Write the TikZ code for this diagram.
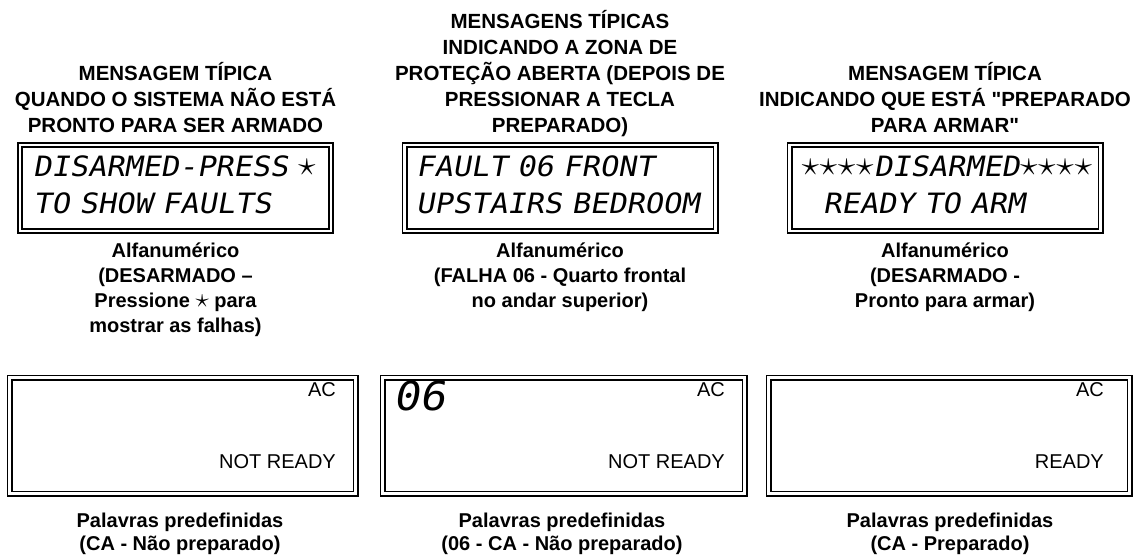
\documentclass[tikz,border=0pt]{standalone}
\usepackage{fontspec}
\usepackage{graphicx}
\setmainfont{Liberation Sans}
\newfontfamily\lcdfont{DejaVu Sans Mono}[FakeSlant=0.18,FakeStretch=1.08]
\usetikzlibrary{positioning}
\newcommand\lstar{\makebox[\fontcharwd\font`0][c]{\raisebox{1.5pt}{\scalebox{1.4}{$\star$}}}}
\newcommand\capstar{\smash{\scalebox{1.3}{$\star$}}}

\begin{document}
\begin{tikzpicture}
    [x=1pt, y=-1pt,
    heading/.style={font=\bfseries\fontsize{20.5}{26}\selectfont, align=center, anchor=north, inner sep=0pt},
    caption/.style={font=\bfseries\fontsize{20}{25}\selectfont, align=center, anchor=north, inner sep=0pt},
    lcdbox/.style={draw=black, double, line width=1.7pt, double distance=2.6pt, inner sep=0pt},
    lcdrow/.style={font={\lcdfont\fontsize{28}{28}\selectfont\spaceskip=0.35em\relax}, anchor=base west, inner sep=0pt},
    word/.style={font=\fontsize{20}{20}\selectfont, anchor=base east, inner sep=0pt}]
    \useasboundingbox (0,0) rectangle (1135,556);

    % headings
    \node [heading] (headA) at (175.5,60) {\rule{0pt}{20pt}MENSAGEM TÍPICA\\QUANDO O SISTEMA NÃO ESTÁ\\PRONTO PARA SER ARMADO};
    \node [heading] (headB) at (560,8) {\rule{0pt}{20pt}MENSAGENS TÍPICAS\\INDICANDO A ZONA DE\\PROTEÇÃO ABERTA (DEPOIS DE\\PRESSIONAR A TECLA\\PREPARADO)};
    \node [heading] (headC) at (945,60) {\rule{0pt}{20pt}MENSAGEM TÍPICA\\INDICANDO QUE ESTÁ \textquotedbl PREPARADO\\PARA ARMAR\textquotedbl};

    % alphanumeric displays
    \node [lcdbox, minimum width=311, minimum height=86] (alphaA) at (175.5,188) {};
    \node [lcdbox, minimum width=311, minimum height=86] (alphaB) at (560,188) {};
    \node [lcdbox, minimum width=311, minimum height=86] (alphaC) at (945,188) {};
    \node [lcdrow] (rowA1) at (33,177) {DISARMED-PRESS \lstar};
    \node [lcdrow] (rowA2) at (33,214) {TO SHOW FAULTS};
    \node [lcdrow] (rowB1) at (416,177) {FAULT 06 FRONT};
    \node [lcdrow] (rowB2) at (416,214) {UPSTAIRS BEDROOM};
    \node [lcdrow] (rowC1) at (801,177) {\lstar\lstar\lstar\lstar DISARMED\lstar\lstar\lstar\lstar};
    \node [lcdrow] (rowC2) at (823,214) {READY TO ARM};

    \node [caption] (capA) at (175.5,238) {\rule{0pt}{19pt}Alfanumérico\\(DESARMADO –\\Pressione \capstar{} para\\mostrar as falhas)};
    \node [caption] (capB) at (560,238) {\rule{0pt}{19pt}Alfanumérico\\(FALHA 06 - Quarto frontal\\no andar superior)};
    \node [caption] (capC) at (945,238) {\rule{0pt}{19pt}Alfanumérico\\(DESARMADO -\\Pronto para armar)};

    % fixed-word displays
    \node [lcdbox, minimum width=346, minimum height=116] (fixedA) at (182.5,435.5) {};
    \node [lcdbox, minimum width=362, minimum height=116] (fixedB) at (563.5,435.5) {};
    \node [lcdbox, minimum width=361, minimum height=116] (fixedC) at (949,435.5) {};
    \node [word] (acA) at (336,396) {AC};
    \node [word] (notA) at (336,468) {NOT READY};
    \node [lcdrow, font=\lcdfont\fontsize{40}{40}\selectfont] (zoneB) at (393,410) {06};
    \node [word] (acB) at (725,396) {AC};
    \node [word] (notB) at (725,468) {NOT READY};
    \node [word] (acC) at (1104,396) {AC};
    \node [word] (readyC) at (1104,468) {READY};

    \node [caption, font=\bfseries\fontsize{20}{23}\selectfont] (capD) at (180,507) {\rule{0pt}{20pt}Palavras predefinidas\\(CA - Não preparado)};
    \node [caption, font=\bfseries\fontsize{20}{23}\selectfont] (capE) at (562,507) {\rule{0pt}{20pt}Palavras predefinidas\\(06 - CA - Não preparado)};
    \node [caption, font=\bfseries\fontsize{20}{23}\selectfont] (capF) at (950,507) {\rule{0pt}{20pt}Palavras predefinidas\\(CA - Preparado)};
\end{tikzpicture}
\end{document}
